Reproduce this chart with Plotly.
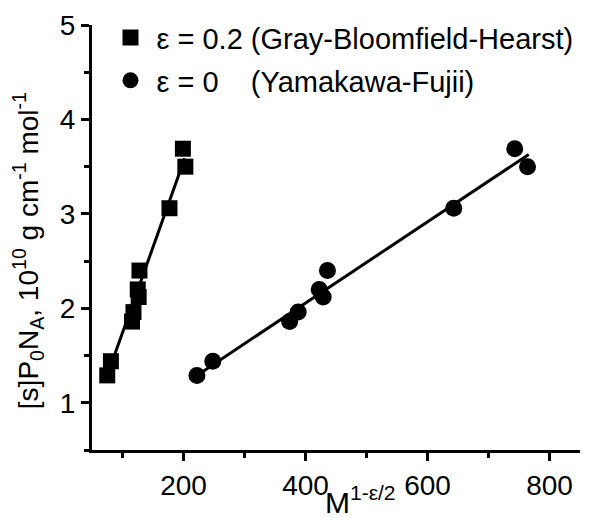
import plotly.graph_objects as go

# Data
y_vals = [1.29, 1.44, 1.86, 1.96, 2.12, 2.20, 2.40, 3.06, 3.69, 3.50]
x_eps02 = [75, 81, 115.6, 118, 126.5, 125, 127.8, 177, 199, 203]
x_eps0 = [222, 248, 374, 388, 429, 422.5, 436, 643, 743, 764]

# Fitted lines (endpoints)
fit02_x = [75, 202]
fit02_y = [1.29, 3.59]
fit0_x = [222, 766]
fit0_y = [1.29, 3.63]

FONT = "Liberation Sans, Arial, sans-serif"
NB = "\u00a0"

fig = go.Figure()
fig.add_trace(go.Scatter(x=fit02_x, y=fit02_y, mode="lines",
                         line=dict(color="black", width=3), showlegend=False))
fig.add_trace(go.Scatter(x=fit0_x, y=fit0_y, mode="lines",
                         line=dict(color="black", width=3), showlegend=False))
fig.add_trace(go.Scatter(x=x_eps02, y=y_vals, mode="markers",
                         marker=dict(symbol="square", size=16, color="black"),
                         name="ε = 0.2 (Gray-Bloomfield-Hearst)", legendgroup="a"))
fig.add_trace(go.Scatter(x=x_eps0, y=y_vals, mode="markers",
                         marker=dict(symbol="circle", size=17, color="black"),
                         name="ε = 0" + NB * 4 + "(Yamakawa-Fujii)", legendgroup="b"))

fig.update_layout(
    width=591, height=518,
    margin=dict(l=92, r=11, t=25, b=68, autoexpand=False),
    paper_bgcolor="white", plot_bgcolor="white",
    font=dict(family=FONT, size=24, color="black"),
    showlegend=True,
    legend=dict(x=0.0256, y=1.030, xanchor="left", yanchor="top",
                bgcolor="rgba(0,0,0,0)", font=dict(size=29),
                tracegroupgap=2, itemwidth=42),
    xaxis=dict(range=[50, 850], tick0=0, dtick=200, showline=True, linewidth=3,
               linecolor="black", ticks="outside", ticklen=8, tickwidth=3,
               tickcolor="black", showgrid=False, zeroline=False,
               tickfont=dict(size=28), automargin=False,
               minor=dict(ticks="outside", ticklen=5, tickwidth=3, dtick=100,
                          tickcolor="black", showgrid=False)),
    yaxis=dict(range=[0.5, 5], tick0=0, dtick=1, showline=True, linewidth=3,
               linecolor="black", ticks="outside", ticklen=8, tickwidth=3,
               tickcolor="black", showgrid=False, zeroline=False,
               tickfont=dict(size=28), automargin=False,
               minor=dict(ticks="outside", ticklen=5, tickwidth=3, dtick=0.5,
                          tickcolor="black", showgrid=False)),
    annotations=[
        dict(text="M<sup>1-ε/2</sup>", xref="paper", yref="paper",
             x=0.474, y=-0.166, xanchor="left", yanchor="bottom",
             showarrow=False, font=dict(size=30)),
        dict(text="[s]P<sub>0</sub>N<sub>A</sub>, 10<sup>10</sup> g cm<sup>-1</sup> mol<sup>-1</sup>",
             xref="paper", yref="paper", x=-0.131, y=0.468,
             xanchor="center", yanchor="middle", textangle=-90,
             showarrow=False, font=dict(size=28)),
    ],
)

fig.write_html(
    "out.html",
    config={"displayModeBar": False},
    post_script="document.body.style.margin='0';document.body.style.overflow='hidden';",
)
